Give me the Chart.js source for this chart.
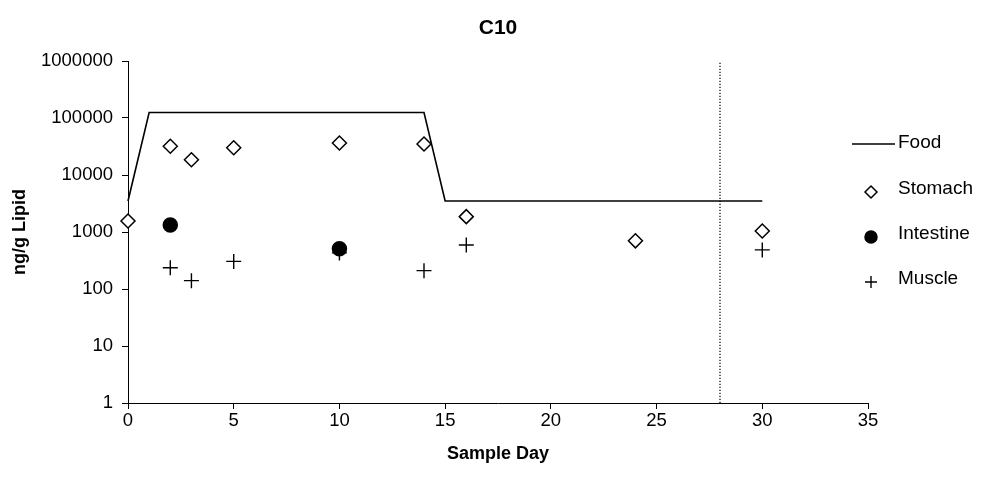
<!DOCTYPE html>
<html>
<head>
<meta charset="utf-8">
<title>C10</title>
<script src="https://cdn.jsdelivr.net/npm/chart.js@4.4.1/dist/chart.umd.min.js"></script>
<style>
  html, body { margin: 0; padding: 0; background: #ffffff; }
  #wrap { width: 982px; height: 483px; }
</style>
</head>
<body>
<div id="wrap"><canvas id="c" width="982" height="483"></canvas></div>
<script>
// ---- data (ng/g lipid by sample day) ----
const chartTitle = 'C10';
const xAxisTitle = 'Sample Day';
const yAxisTitle = 'ng/g Lipid';

const foodDays = [0, 1, 14, 15, 30];
const foodValues = [3500, 125000, 125000, 3500, 3500];

const stomachDays = [0, 2, 3, 5, 10, 14, 16, 24, 30];
const stomachValues = [1560, 32000, 18500, 30000, 36500, 35000, 1860, 700, 1040];

const intestineDays = [2, 10];
const intestineValues = [1330, 510];

const muscleDays = [2, 3, 5, 10, 14, 16, 30];
const muscleValues = [236, 140, 305, 430, 210, 590, 485];

const depurationDay = 28;

const yTickValues = [1, 10, 100, 1000, 10000, 100000, 1000000];
const xTickValues = [0, 5, 10, 15, 20, 25, 30, 35];

// ---- helpers ----
const FONT = '"Liberation Sans", Arial, Helvetica, sans-serif';
const pairs = (xs, ys) => xs.map((x, i) => ({ x: x, y: ys[i] }));

// legend + title drawn at fixed spots beside the plot
const sideLegend = {
  id: 'sideLegend',
  afterDraw(chart) {
    const ctx = chart.ctx;
    const area = chart.chartArea;
    ctx.save();
    // title
    ctx.fillStyle = '#000';
    ctx.font = 'bold 21px ' + FONT;
    ctx.textAlign = 'center';
    ctx.textBaseline = 'middle';
    ctx.fillText(chartTitle, (area.left + area.right) / 2, 28);

    // legend entries
    const rows = [144, 190, 235, 280];
    const markX = 871, textX = 898;
    ctx.font = '19px ' + FONT;
    ctx.textAlign = 'left';
    chart.data.datasets.forEach((ds, i) => {
      if (i >= rows.length) return;
      const y = rows[i];
      if (ds.showLine) {
        ctx.strokeStyle = ds.borderColor;
        ctx.lineWidth = ds.borderWidth;
        ctx.beginPath();
        ctx.moveTo(852, y);
        ctx.lineTo(895, y);
        ctx.stroke();
      } else {
        ctx.fillStyle = ds.pointBackgroundColor;
        ctx.strokeStyle = ds.pointBorderColor;
        ctx.lineWidth = ds.pointBorderWidth;
        Chart.helpers.drawPoint(ctx, {
          pointStyle: ds.pointStyle,
          radius: ds.legendRadius,
          borderWidth: ds.pointBorderWidth,
          rotation: 0
        }, markX, y + 2);
      }
      ctx.fillStyle = '#000';
      ctx.fillText(ds.label, textX, y - 1);
    });
    ctx.restore();
  }
};

const markerBase = {
  type: 'scatter',
  showLine: false,
  clip: false,
  pointBorderColor: '#000',
  pointBorderWidth: 1.5
};

new Chart(document.getElementById('c'), {
  type: 'scatter',
  data: {
    datasets: [
      {
        label: 'Food',
        type: 'line',
        data: pairs(foodDays, foodValues),
        showLine: true,
        clip: false,
        borderColor: '#000',
        borderWidth: 1.6,
        pointRadius: 0,
        tension: 0,
        fill: false
      },
      Object.assign({}, markerBase, {
        label: 'Stomach',
        data: pairs(stomachDays, stomachValues),
        pointStyle: 'rectRot',
        pointRadius: 7,
        legendRadius: 6,
        pointBackgroundColor: '#fff'
      }),
      Object.assign({}, markerBase, {
        label: 'Intestine',
        data: pairs(intestineDays, intestineValues),
        pointStyle: 'circle',
        pointRadius: 7,
        legendRadius: 6,
        pointBackgroundColor: '#000'
      }),
      Object.assign({}, markerBase, {
        label: 'Muscle',
        data: pairs(muscleDays, muscleValues),
        pointStyle: 'cross',
        pointRadius: 7.5,
        legendRadius: 6,
        pointBorderWidth: 1.4,
        pointBackgroundColor: '#000'
      }),
      {
        label: 'Depuration start',
        type: 'line',
        data: [{ x: depurationDay, y: yTickValues[0] }, { x: depurationDay, y: yTickValues[yTickValues.length - 1] }],
        showLine: true,
        borderColor: '#000',
        borderWidth: 1.2,
        borderDash: [1.2, 1.8],
        pointRadius: 0,
        fill: false
      }
    ]
  },
  options: {
    responsive: false,
    animation: false,
    events: [],
    layout: { padding: { top: 61, right: 114, left: 0, bottom: 0 } },
    plugins: {
      legend: { display: false },
      title: { display: false },
      tooltip: { enabled: false }
    },
    scales: {
      x: {
        type: 'linear',
        min: 0,
        max: 35,
        afterBuildTicks: (s) => { s.ticks = xTickValues.map(v => ({ value: v })); },
        afterFit: (s) => { s.height = 80; },
        grid: { display: true, drawOnChartArea: false, drawTicks: true, tickLength: 6, color: '#000', lineWidth: 1 },
        border: { display: true, color: '#000', width: 1 },
        ticks: { color: '#000', font: { family: FONT, size: 18.5 }, padding: 1, maxRotation: 0 },
        title: { display: true, text: xAxisTitle, color: '#000', font: { family: FONT, size: 18, weight: 'bold' }, padding: { top: 0, bottom: 18 } }
      },
      y: {
        type: 'logarithmic',
        min: 1,
        max: 1000000,
        afterBuildTicks: (s) => { s.ticks = yTickValues.map(v => ({ value: v })); },
        afterFit: (s) => { s.width = 128; },
        grid: { display: true, drawOnChartArea: false, drawTicks: true, tickLength: 6, color: '#000', lineWidth: 1 },
        border: { display: true, color: '#000', width: 1 },
        ticks: { color: '#000', font: { family: FONT, size: 18.5 }, padding: 9, callback: (v) => String(v) },
        title: { display: true, text: yAxisTitle, color: '#000', font: { family: FONT, size: 18, weight: 'bold' }, padding: { top: 9, bottom: 0 } }
      }
    }
  },
  plugins: [sideLegend]
});
</script>
</body>
</html>
